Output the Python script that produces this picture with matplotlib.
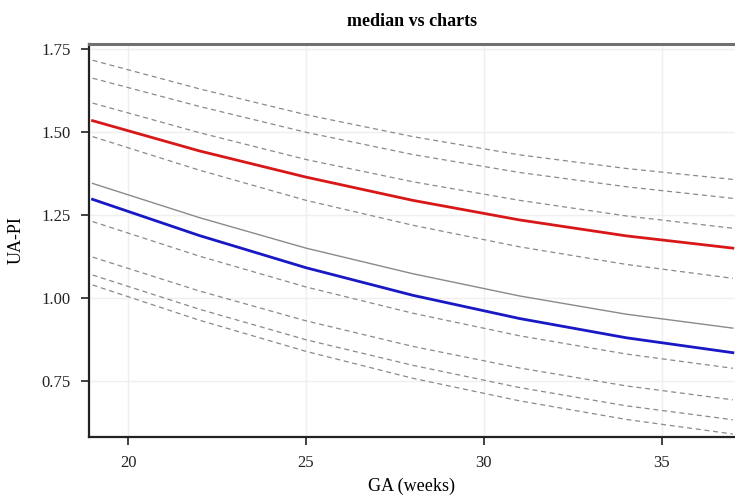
import matplotlib
matplotlib.use("Agg")
import matplotlib.pyplot as plt

plt.rcParams['font.family'] = ['Liberation Serif', 'DejaVu Serif']

ga = [19, 22, 25, 28, 31, 34, 37]

# reference chart percentile curves (dashed), top to bottom
chart_curves = [
    [1.716, 1.630, 1.552, 1.486, 1.431, 1.390, 1.357],
    [1.662, 1.577, 1.499, 1.432, 1.378, 1.335, 1.300],
    [1.587, 1.498, 1.417, 1.350, 1.294, 1.247, 1.210],
    [1.486, 1.385, 1.294, 1.219, 1.154, 1.101, 1.059],
    [1.230, 1.126, 1.033, 0.954, 0.886, 0.831, 0.788],
    [1.123, 1.021, 0.931, 0.854, 0.789, 0.735, 0.693],
    [1.069, 0.966, 0.874, 0.797, 0.730, 0.675, 0.633],
    [1.039, 0.933, 0.839, 0.758, 0.690, 0.634, 0.590],
]
red_curve = [1.534, 1.443, 1.364, 1.294, 1.235, 1.187, 1.150]
gray_median = [1.345, 1.242, 1.150, 1.073, 1.006, 0.951, 0.909]
blue_curve = [1.297, 1.188, 1.091, 1.008, 0.938, 0.880, 0.835]

title = "median vs charts"
xlabel = "GA (weeks)"
ylabel = "UA-PI"
xticks = [20, 25, 30, 35]
yticks = [0.75, 1.00, 1.25, 1.50, 1.75]

fig = plt.figure(figsize=(7.35, 4.98), dpi=100)
ax = fig.add_axes([89/735, 61/498, 646/735, 393/498])

for c in chart_curves:
    ax.plot(ga, c, color='#8a8a8a', lw=0.9, dashes=(4, 3))
ax.plot(ga, gray_median, color='#8a8a8a', lw=1.0)
ax.plot(ga, red_curve, color='#d81818', lw=2.0)
ax.plot(ga, blue_curve, color='#1818c4', lw=2.0)

ax.set_xlim(18.9, 37.06)
ax.set_ylim(0.581, 1.765)
ax.set_xticks(xticks)
ax.set_yticks(yticks)
ax.set_yticklabels([f"{v:.2f}" for v in yticks])
ax.grid(True, color='#efefef', lw=1.0)
ax.set_axisbelow(True)

ax.tick_params(axis='both', direction='out', length=6, width=1.2, pad=7,
               labelsize=12, colors='#222222')
ax.spines['left'].set_color('#222222')
ax.spines['left'].set_linewidth(1.6)
ax.spines['bottom'].set_color('#222222')
ax.spines['bottom'].set_linewidth(1.6)
ax.spines['top'].set_color('#707070')
ax.spines['top'].set_linewidth(2.2)
ax.spines['right'].set_visible(False)

ax.set_title(title, fontsize=13, fontweight='bold', pad=13)
ax.set_xlabel(xlabel, fontsize=13, labelpad=5)
ax.set_ylabel(ylabel, fontsize=13, labelpad=12)

fig.savefig("out.png", dpi=100)
